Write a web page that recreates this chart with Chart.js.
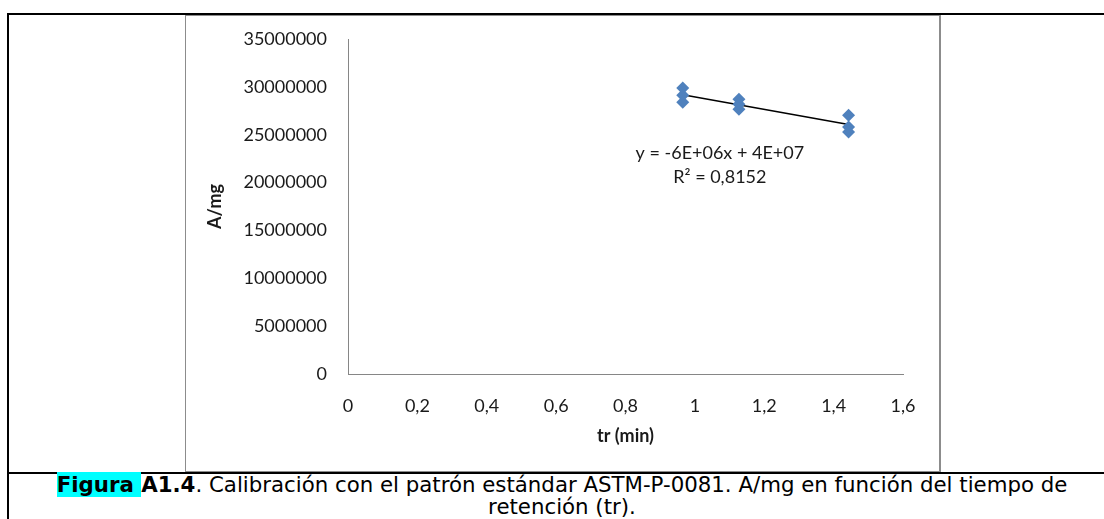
<!DOCTYPE html>
<html>
<head>
<meta charset="utf-8">
<script src="https://cdn.jsdelivr.net/npm/chart.js@4"></script>
<style>
  html, body { margin: 0; padding: 0; background: #fff; }
  body { width: 1104px; height: 519px; position: relative; overflow: hidden; }
  .rule { position: absolute; background: #000; }
  #frame { position: absolute; left: 185px; top: 15px; width: 753px; height: 455px;
           border: 1px solid #8c8c8c; border-right-width: 2px; }
  #caption { position: absolute; left: 8px; top: 474px; width: 1108px; text-align: center;
             font-family: "DejaVu Sans", sans-serif; font-size: 21.3px; line-height: 22px; color: #000; }
  #caption .hl { background: #00ffff; }
</style>
</head>
<body>
<div class="rule" style="left:7px; top:13px; width:1097px; height:2px;"></div>
<div class="rule" style="left:7px; top:13px; width:2px; height:506px;"></div>
<div class="rule" style="left:7px; top:472px; width:1097px; height:2px;"></div>
<div id="frame"><canvas id="myChart"></canvas></div>
<div id="caption"><b><span class="hl">Figura </span>A1.4</b>. Calibración con el patrón estándar ASTM-P-0081. A/mg en función del tiempo de<br>retención (tr).</div>

<script>
"use strict"

// retention time (min) and area per mg for the standard injections
const retention = [0.965, 0.965, 0.965, 1.127, 1.127, 1.127, 1.443, 1.443, 1.443];
const areaPerMg = [29870000, 29130000, 28400000, 28710000, 28190000, 27660000, 27040000, 25810000, 25290000];

const xTickLabels = ['0', '0,2', '0,4', '0,6', '0,8', '1', '1,2', '1,4', '1,6'];
const yTickLabels = ['0', '5000000', '10000000', '15000000', '20000000', '25000000', '30000000', '35000000'];

const fitLabels = ['y = -6E+06x + 4E+07', 'R² = 0,8152'];

// least squares line through the points
function linearFit (xs, ys) {
    const n = xs.length;
    const mx = xs.reduce((a, b) => a + b, 0) / n;
    const my = ys.reduce((a, b) => a + b, 0) / n;
    let sxy = 0, sxx = 0;
    for (let i = 0; i < n; i++) {
        sxy += (xs[i] - mx) * (ys[i] - my);
        sxx += (xs[i] - mx) * (xs[i] - mx);
    }
    const slope = sxy / sxx;
    return { slope: slope, intercept: my - slope * mx };
}

const fit = linearFit(retention, areaPerMg);
const xMin = Math.min(...retention);
const xMax = Math.max(...retention);

const tickFont = { family: 'Lato', size: 18 };
const axisGray = '#868686';

// writes the trendline equation under the points
const equationLabel = {
    id: 'equationLabel',
    afterDatasetsDraw (chart, args, opts) {
        const { ctx, scales: { x, y } } = chart;
        ctx.save();
        ctx.font = '18px Lato';
        ctx.fillStyle = '#1a1a1a';
        ctx.textAlign = 'center';
        ctx.textBaseline = 'middle';
        const cx = x.getPixelForValue(opts.x);
        const cy = y.getPixelForValue(opts.y);
        fitLabels.forEach((t, i) => ctx.fillText(t, cx, cy + i * opts.lineGap));
        ctx.restore();
    }
};

const ctx = document.getElementById('myChart');

new Chart(ctx, {
    type: 'scatter',
    data: {
        datasets: [{
            label: 'A/mg',
            data: retention.map((v, i) => ({ x: v, y: areaPerMg[i] })),
            pointStyle: 'rectRot',
            pointRadius: 6.5,
            pointBorderWidth: 0,
            backgroundColor: '#4f81bd',
            borderColor: '#4f81bd',
        }, {
            label: 'Lineal',
            type: 'line',
            data: [
                { x: xMin, y: fit.intercept + fit.slope * xMin },
                { x: xMax, y: fit.intercept + fit.slope * xMax },
            ],
            borderColor: '#000',
            borderWidth: 1.5,
            pointRadius: 0,
            fill: false,
        }]
    },
    options: {
        responsive: true,
        maintainAspectRatio: false,
        animation: false,
        layout: { padding: { top: 23, right: 36, left: 0, bottom: 0 } },
        plugins: {
            legend: { display: false },
            tooltip: { enabled: false },
            equationLabel: { x: 1.072, y: 23100000, lineGap: 24 },
        },
        scales: {
            x: {
                type: 'linear',
                min: 0,
                max: 1.6,
                grid: { display: false, drawTicks: false },
                border: { display: true, color: axisGray, width: 1 },
                ticks: {
                    stepSize: 0.2,
                    padding: 21,
                    color: '#1a1a1a',
                    font: tickFont,
                    callback: (value, index) => xTickLabels[index],
                },
                title: {
                    display: true,
                    text: 'tr (min)',
                    color: '#1a1a1a',
                    font: { family: 'Lato', size: 18, weight: 'bold' },
                    padding: { top: 0, bottom: 24 },
                },
                afterFit: (scale) => { scale.height = 97 },
            },
            y: {
                min: 0,
                max: 35000000,
                grid: { display: false, drawTicks: false },
                border: { display: true, color: axisGray, width: 1 },
                ticks: {
                    stepSize: 5000000,
                    padding: 21,
                    color: '#1a1a1a',
                    font: tickFont,
                    callback: (value, index) => yTickLabels[index],
                },
                title: {
                    display: true,
                    text: 'A/mg',
                    color: '#1a1a1a',
                    font: { family: 'Lato', size: 18, weight: 'bold' },
                    padding: { top: 18, bottom: 0 },
                },
                // fixed label column; the tick padding would otherwise push the top down
                afterFit: (scale) => {
                    scale.width = 162;
                    scale.paddingTop = 0;
                    scale.paddingBottom = 0;
                },
            },
        },
    },
    plugins: [equationLabel],
});
</script>
</body>
</html>
